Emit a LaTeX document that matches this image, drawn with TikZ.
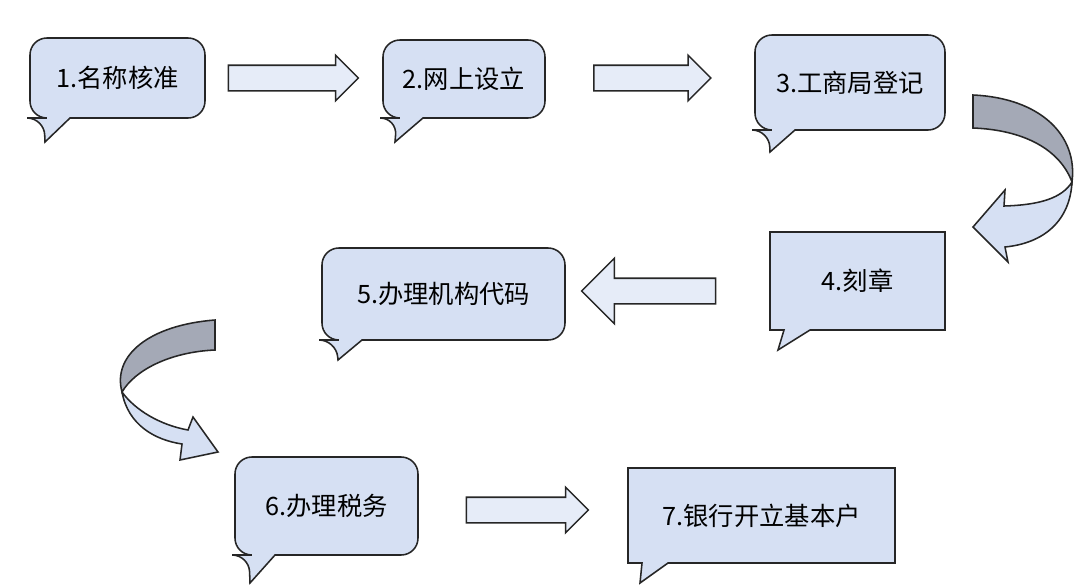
\documentclass[tikz,border=0pt]{standalone}
\usepackage{fontspec}
\setmainfont{Noto Sans CJK SC}
\usetikzlibrary{shapes.arrows}
\definecolor{bubblefill}{HTML}{D6E0F3}
\definecolor{bandgray}{HTML}{A4A9B6}
\newlength\pxunit
\setlength\pxunit{0.025cm}
\tikzset{
  bubble/.style={draw=black!85,fill=bubblefill,line width=1.1pt},
  blockarrow/.style={single arrow,draw=black!85,fill=bubblefill!60,line width=1.1pt,
    single arrow head extend=10\pxunit,inner xsep=0pt,inner ysep=12\pxunit},
  label/.style={font=\fontsize{18}{20}\selectfont,inner sep=0pt}
}
% callout: name, x1, y1, x2, y2, tail x, tail y, text
\newcommand\callout[8]{%
  \draw[bubble,rounded corners=12pt] (#2+14,#5) [sharp corners]-- (#6,#7) -- (#2+40,#5)
    [rounded corners=12pt]-- (#4,#5) -- (#4,#3) -- (#2,#3) -- (#2,#5) -- cycle;
  \node[label] (#1) at ({(#2+#4)/2},{(#3+#5)/2}) {#8};}
\newcommand\boxcallout[8]{%
  \draw[bubble] (#2+14,#5) -- (#6,#7) -- (#2+40,#5) -- (#4,#5) -- (#4,#3) -- (#2,#3) -- (#2,#5) -- cycle;
  \node[label] (#1) at ({(#2+#4)/2},{(#3+#5)/2}) {#8};}
\begin{document}
\begin{tikzpicture}[x=0.025cm,y=-0.025cm]
\useasboundingbox[fill=white] (0,0) rectangle (1080,587);
\callout{s1}{30}{38}{205}{118}{45}{142}{1.名称核准}
\callout{s2}{383}{40}{545}{118}{395}{142}{2.网上设立}
\callout{s3}{755}{35}{945}{130}{770}{152}{3.工商局登记}
\boxcallout{s4}{770}{232}{945}{330}{778}{350}{4.刻章}
\callout{s5}{322}{248}{565}{340}{338}{360}{5.办理机构代码}
\callout{s6}{235}{457}{418}{555}{250}{583}{6.办理税务}
\boxcallout{s7}{628}{468}{895}{563}{640}{583}{7.银行开立基本户}

% block arrows
\node[blockarrow,minimum height=130\pxunit] (a12) at (287,78) {};
\node[blockarrow,minimum height=117\pxunit] (a23) at (646,78) {};
\node[blockarrow,minimum height=134\pxunit,shape border rotate=180,single arrow head extend=20\pxunit] (a45) at (655,291) {};
\node[blockarrow,minimum height=122\pxunit] (a67) at (521,510) {};

% turning arrows
\draw[bubble,fill=bandgray] (973,95) .. controls (1040,98) and (1078,135) .. (1072,182)
  .. controls (1060,150) and (1025,130) .. (973,128) -- cycle;
\draw[bubble] (1072,182) .. controls (1070,220) and (1045,243) .. (1005,247) -- (1008,262)
  -- (973,227) -- (1005,190) -- (1004,206) .. controls (1040,205) and (1062,198) .. (1072,182);
\draw[bubble,fill=bandgray] (215,320) .. controls (150,325) and (112,355) .. (122,392)
  .. controls (135,370) and (170,352) .. (215,350) -- cycle;
\draw[bubble] (122,392) .. controls (128,425) and (155,440) .. (182,444) -- (180,460)
  -- (218,452) -- (193,417) -- (188,430) .. controls (160,425) and (135,410) .. (122,392);
\end{tikzpicture}
\end{document}
